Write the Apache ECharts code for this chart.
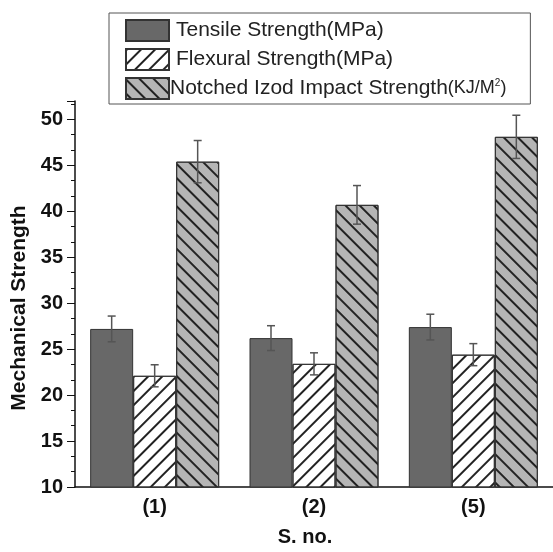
<!DOCTYPE html>
<html>
<head>
<meta charset="utf-8">
<script src="https://cdn.jsdelivr.net/npm/echarts@6/dist/echarts.min.js"></script>
<style>
  html, body { margin: 0; padding: 0; background: #fff; }
  #chart { width: 553px; height: 552px; }
</style>
</head>
<body>
<div id="chart"></div>
<script>
// sample numbers on the x axis
const samples = ['(1)', '(2)', '(5)']
const seriesNames = [
  'Tensile Strength(MPa)',
  'Flexural Strength(MPa)',
  'Notched Izod Impact Strength(KJ/M2)'
]
const tensile = [27.2, 26.2, 27.4]
const flexural = [22.1, 23.4, 24.4]
const izod = [45.4, 40.7, 48.1]
// half length of the error bars
const tensileErr = [1.4, 1.35, 1.4]
const flexuralErr = [1.2, 1.2, 1.2]
const izodErr = [2.3, 2.1, 2.35]

const barW = 43
const font = 'Liberation Sans, Arial, sans-serif'

const chart = echarts.init(document.getElementById('chart'))

function hatch(rot) {
  return {
    symbol: 'rect',
    symbolSize: 1,
    dashArrayX: [1, 0],
    dashArrayY: [1.1, 7.9],
    rotation: rot,
    color: '#222'
  }
}

// error bars drawn on top of each bar
function errorSeries(k, vals, errs) {
  return {
    type: 'custom',
    z: 10,
    silent: true,
    data: vals.map((v, i) => [i, v - errs[i], v + errs[i]]),
    renderItem(params, api) {
      const top = api.coord([api.value(0), api.value(2)])
      const bot = api.coord([api.value(0), api.value(1)])
      const x = top[0] + (k - 1) * barW
      const st = { stroke: '#555', lineWidth: 1.5 }
      return {
        type: 'group',
        children: [
          { type: 'line', shape: { x1: x, y1: top[1], x2: x, y2: bot[1] }, style: st },
          { type: 'line', shape: { x1: x - 4, y1: top[1], x2: x + 4, y2: top[1] }, style: st },
          { type: 'line', shape: { x1: x - 4, y1: bot[1], x2: x + 4, y2: bot[1] }, style: st }
        ]
      }
    }
  }
}

const options = {
  animation: false,
  textStyle: { fontFamily: font },
  legend: {
    orient: 'vertical',
    left: 109,
    top: 13,
    padding: [6, 24, 4, 16],
    icon: 'rect',
    itemWidth: 43,
    itemHeight: 21,
    itemGap: 6,
    borderColor: '#555',
    borderWidth: 1,
    data: seriesNames,
    formatter(name) {
      if (name === seriesNames[2]) return '{m|Notched Izod Impact Strength}{u|(KJ/M}{s|2}{u|)}'
      return '{n|' + name + '}'
    },
    textStyle: {
      color: '#222',
      padding: [0, 0, 0, 2],
      rich: {
        n: { fontSize: 21, fontFamily: font, color: '#222' },
        m: { fontSize: 21, fontFamily: font, color: '#222', padding: [0, 0, 0, -6] },
        u: { fontSize: 18, fontFamily: font, color: '#222' },
        s: { fontSize: 10, fontFamily: font, color: '#222', verticalAlign: 'top', padding: [0, 0, 8, 0] }
      }
    }
  },
  grid: { left: 75, right: -5, top: 101, bottom: 57 },
  xAxis: {
    type: 'category',
    data: samples,
    name: 'S. no.',
    nameLocation: 'middle',
    nameGap: 40,
    nameTextStyle: { fontSize: 20, fontWeight: 'bold', color: '#111', padding: [0, 18, 0, 0] },
    axisLine: { lineStyle: { color: '#111', width: 1.5 } },
    axisTick: { inside: true, length: 4, lineStyle: { color: '#111' } },
    axisLabel: { fontSize: 20, fontWeight: 'bold', color: '#111', margin: 10 }
  },
  yAxis: {
    type: 'value',
    min: 10,
    max: 52,
    interval: 5,
    name: 'Mechanical Strength',
    nameLocation: 'middle',
    nameGap: 42,
    nameTextStyle: { fontSize: 21, fontWeight: 'bold', color: '#111', padding: [0, 0, 0, -28] },
    splitLine: { show: false },
    axisLine: { show: true, lineStyle: { color: '#111', width: 1.5 } },
    axisTick: { show: true, length: 8, lineStyle: { color: '#111' } },
    minorTick: { show: true, splitNumber: 3, length: 4, lineStyle: { color: '#111' } },
    axisLabel: { fontSize: 20, fontWeight: 'bold', color: '#111', margin: 12, showMaxLabel: false }
  },
  series: [
    {
      name: seriesNames[0],
      type: 'bar',
      barWidth: barW,
      barGap: '0%',
      data: tensile,
      itemStyle: { color: '#686868', borderColor: '#333', borderWidth: 1 }
    },
    {
      name: seriesNames[1],
      type: 'bar',
      barWidth: barW,
      barGap: '0%',
      data: flexural,
      itemStyle: { color: '#fff', borderColor: '#333', borderWidth: 1, decal: hatch(-Math.PI / 4) }
    },
    {
      name: seriesNames[2],
      type: 'bar',
      barWidth: barW,
      barGap: '0%',
      data: izod,
      itemStyle: { color: '#b5b5b5', borderColor: '#333', borderWidth: 1, decal: hatch(Math.PI / 4) }
    },
    errorSeries(0, tensile, tensileErr),
    errorSeries(1, flexural, flexuralErr),
    errorSeries(2, izod, izodErr)
  ]
}

chart.setOption(options)
</script>
</body>
</html>
